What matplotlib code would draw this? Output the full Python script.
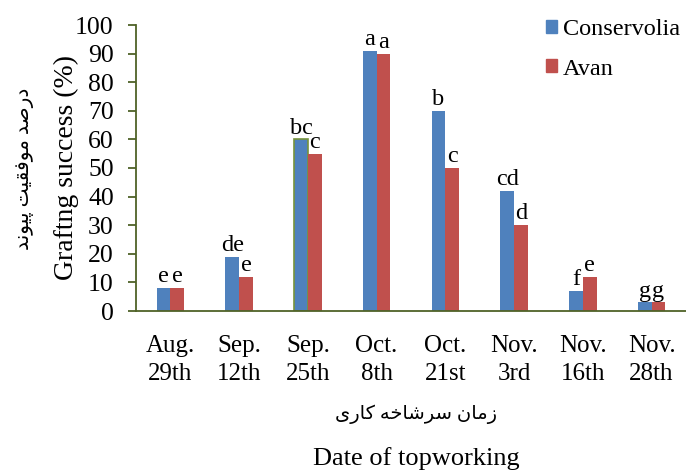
import numpy as np
import matplotlib.pyplot as plt
from matplotlib.patches import Patch

# =============================================================================
# DADOS
# =============================================================================

datas = ["Aug.\n29th", "Sep.\n12th", "Sep.\n25th", "Oct.\n8th",
         "Oct.\n21st", "Nov.\n3rd", "Nov.\n16th", "Nov.\n28th"]

conservolia = [8, 19, 60, 91, 70, 42, 7, 3]
avan = [8, 12, 55, 90, 50, 30, 12, 3]

letras_conservolia = ["e", "de", "bc", "a", "b", "cd", "f", "g"]
letras_avan = ["e", "e", "c", "a", "c", "d", "e", "g"]

# textos persas em formas de apresentação (ordem visual), sem reshaper
eixo_x_fa = "\uFB90\uFE8E\uFEAD\uFBFC"[::-1] + " " + \
    "\uFEB3\uFEAE\uFEB7\uFE8E\uFEA7\uFEEA"[::-1] + " " + \
    "\uFEAF\uFEE3\uFE8E\uFEE5"[::-1]
eixo_y_fa = "\uFB58\uFBFF\uFEEE\uFEE7\uFEAA"[::-1] + " " + \
    "\uFEE3\uFEEE\uFED3\uFED8\uFBFF\uFE96"[::-1] + " " + \
    "\uFEA9\uFEAD\uFEBB\uFEAA"[::-1]

# =============================================================================
# GRÁFICO
# =============================================================================

plt.rcParams['font.family'] = ['Liberation Serif', 'DejaVu Sans']

azul = '#4F81BD'
vermelho = '#C0504D'
oliva = '#4F6228'

fig = plt.figure(figsize=(6.86, 4.70), dpi=100)
ax = fig.add_axes([136 / 686, 159 / 470, 550 / 686, 286 / 470])

x = np.arange(len(datas))
w = 0.2

bar_c = ax.bar(x - w / 2, conservolia, w, color=azul)
bar_a = ax.bar(x + w / 2, avan, w, color=vermelho)
bar_c[2].set_edgecolor('#77933C')
bar_c[2].set_linewidth(1.2)

for i in range(len(datas)):
    ax.text(x[i] - w / 2, conservolia[i] + 0.3, letras_conservolia[i],
            ha='center', va='bottom', fontsize=17.5)
    ax.text(x[i] + w / 2, avan[i] + 0.3, letras_avan[i],
            ha='center', va='bottom', fontsize=17.5)

ax.set_xlim(-0.5, len(datas) - 0.5)
ax.set_ylim(0, 100)
ax.set_yticks(np.arange(0, 101, 10))
ax.set_xticks(x)
ax.set_xticklabels(datas, fontsize=18, linespacing=1.4)

ax.spines['top'].set_visible(False)
ax.spines['right'].set_visible(False)
ax.spines['left'].set_color(oliva)
ax.spines['bottom'].set_color(oliva)
ax.spines['left'].set_linewidth(1.3)
ax.spines['bottom'].set_linewidth(1.3)

ax.tick_params(axis='y', direction='out', length=6, width=1.3,
               color=oliva, labelsize=18.5, pad=10)
ax.tick_params(axis='x', length=0, pad=17)

ax.legend(handles=[Patch(color=azul, label='Conservolia'),
                   Patch(color=vermelho, label='Avan')],
          loc='upper left', bbox_to_anchor=(0.745, 1.02),
          frameon=False, fontsize=17.5, handlelength=0.45, handleheight=0.45,
          handletextpad=0.25, labelspacing=0.75, borderpad=0, borderaxespad=0)

fig.text(66 / 686, 1 - 167 / 470, 'Graftng success (%)', rotation=90,
         ha='center', va='center', fontsize=20)
fig.text(25 / 686, 1 - 169 / 470, eixo_y_fa, rotation=90,
         ha='center', va='center', fontsize=14.5)
fig.text(416 / 686, 1 - 414 / 470, eixo_x_fa,
         ha='center', va='center', fontsize=14)
fig.text(416 / 686, 1 - 459 / 470, 'Date of topworking',
         ha='center', va='center', fontsize=19)

plt.savefig('out.png', dpi=100)
